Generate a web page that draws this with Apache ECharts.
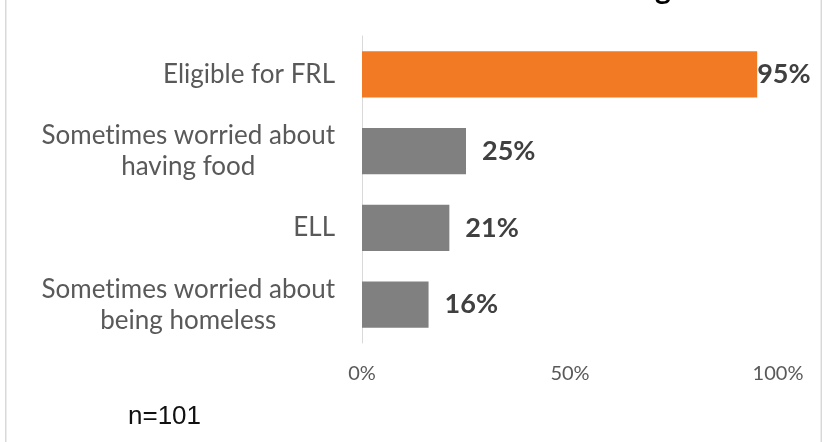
<!DOCTYPE html>
<html>
<head>
<meta charset="utf-8">
<script src="https://cdn.jsdelivr.net/npm/echarts@6/dist/echarts.min.js"></script>
<style>
  html, body { margin: 0; padding: 0; background: #ffffff; }
  #chart { width: 822px; height: 442px; }
</style>
</head>
<body>
<div id="chart"></div>
<script>
// Share of students in each group (percent)
const categories = [
  'Eligible for FRL',
  'Sometimes worried about\nhaving food',
  'ELL',
  'Sometimes worried about\nbeing homeless'
];
const values = [95, 25, 21, 16];
const barColors = ['#F37A24', '#808080', '#808080', '#808080'];
// label gap from the bar end; the long bar keeps its label tight
const labelGaps = [0, 16, 16, 16];
const axisTicks = [0, 50, 100];
const sampleNote = 'n=101';

const chart = echarts.init(document.getElementById('chart'));

const seriesData = values.map((v, i) => ({
  value: v,
  itemStyle: { color: barColors[i] },
  label: { distance: labelGaps[i] }
}));

// keep "t" and "i" as separate glyphs instead of the font's ligature
const noLigature = (s) => s.replace(/ti/g, 't\u200Ci');

chart.setOption({
  animation: false,
  title: {
    text: 'g',
    left: 650,
    top: -31,
    textStyle: { fontFamily: 'Lato', fontWeight: 'bold', fontSize: 30, color: '#000000' }
  },
  grid: { left: 362, right: 44, top: 36, bottom: 99, containLabel: false },
  xAxis: {
    type: 'value',
    min: axisTicks[0],
    max: axisTicks[axisTicks.length - 1],
    interval: axisTicks[1] - axisTicks[0],
    axisLine: { show: false },
    axisTick: { show: false },
    splitLine: { show: false },
    axisLabel: {
      formatter: '{value}%',
      margin: 21,
      fontFamily: 'Lato',
      fontSize: 20,
      color: '#595959'
    }
  },
  yAxis: {
    type: 'category',
    data: categories,
    inverse: true,
    axisLine: { show: true, lineStyle: { color: '#d9d9d9', width: 1 } },
    axisTick: { show: false },
    axisLabel: {
      margin: 27,
      formatter: (txt) => txt.split('\n').map(s => '{c|' + noLigature(s) + '}').join('\n'),
      rich: {
        c: {
          align: 'center',
          fontFamily: 'Lato',
          fontSize: 26,
          lineHeight: 31,
          color: '#595959'
        }
      }
    }
  },
  series: [{
    type: 'bar',
    data: seriesData,
    barCategoryGap: '40%',
    label: {
      show: true,
      position: 'right',
      formatter: '{c}%',
      fontFamily: 'Lato',
      fontWeight: 'bold',
      fontSize: 27,
      color: '#404040'
    }
  }],
  graphic: [
    { type: 'rect', shape: { x: 5, y: 0, width: 1.5, height: 442 }, style: { fill: '#d9d9d9' }, silent: true },
    { type: 'rect', shape: { x: 820.5, y: 0, width: 1.5, height: 442 }, style: { fill: '#d9d9d9' }, silent: true },
    {
      type: 'text',
      left: 128,
      top: 404,
      style: { text: sampleNote, font: '26px "Liberation Sans"', fill: '#111111' }
    }
  ]
});
</script>
</body>
</html>
